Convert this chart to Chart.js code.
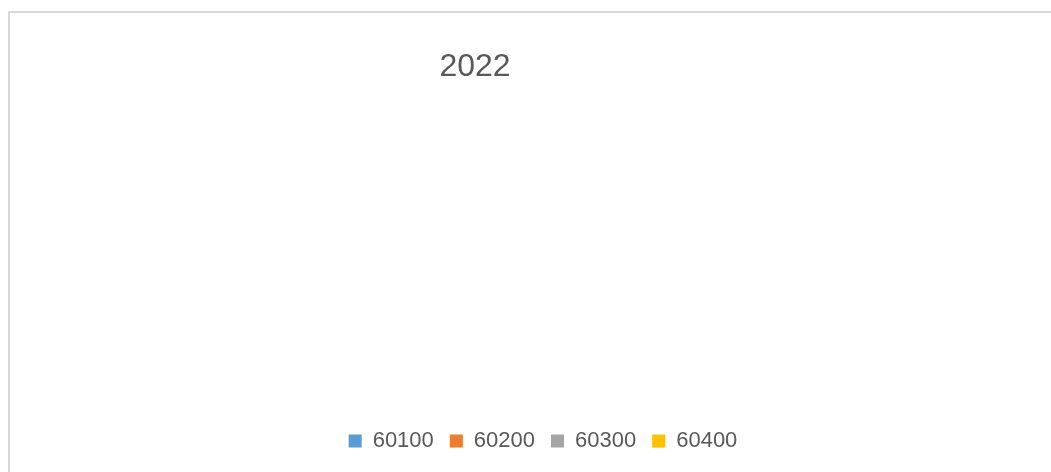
<!DOCTYPE html>
<html>
<head>
<meta charset="utf-8">
<script src="https://cdn.jsdelivr.net/npm/chart.js@4"></script>
<style>
  html, body { margin: 0; padding: 0; background: #fff; overflow: hidden; }
  #frame {
    position: absolute; left: 8px; top: 11px;
    width: 1066px; height: 470px;
    border-top: 2px solid #d9d9d9; border-left: 2px solid #d9d9d9;
  }
  #wrap { position: absolute; left: 0; top: 0; width: 1066px; height: 449px; }
</style>
</head>
<body>
<div id="frame"><div id="wrap"><canvas id="pieChart"></canvas></div></div>
<script>
const chartTitle = "2022";
const categories = ["60100", "60200", "60300", "60400"];
const values = [0, 0, 0, 0];
const colors = ["#5B9BD5", "#ED7D31", "#A5A5A5", "#FFC000"];

// titre placé à la main (décalé vers la gauche comme dans l'original)
const titlePlugin = {
  id: 'offsetTitle',
  afterDraw(chart) {
    const ctx = chart.ctx;
    ctx.save();
    ctx.font = '32px "Liberation Sans", Arial, sans-serif';
    ctx.fillStyle = '#595959';
    ctx.textAlign = 'center';
    ctx.textBaseline = 'middle';
    ctx.fillText(chartTitle, 465, 54);
    ctx.restore();
  }
};

new Chart(document.getElementById('pieChart'), {
  type: 'pie',
  data: {
    labels: categories,
    datasets: [{ data: values, backgroundColor: colors, borderWidth: 0 }]
  },
  options: {
    responsive: true,
    maintainAspectRatio: false,
    animation: false,
    plugins: {
      title: { display: false },
      tooltip: { enabled: false },
      legend: {
        position: 'bottom',
        labels: {
          color: '#595959',
          font: { family: '"Liberation Sans", Arial, sans-serif', size: 22 },
          boxWidth: 13,
          boxHeight: 13,
          padding: 16
        }
      }
    }
  },
  plugins: [titlePlugin]
});
</script>
</body>
</html>
